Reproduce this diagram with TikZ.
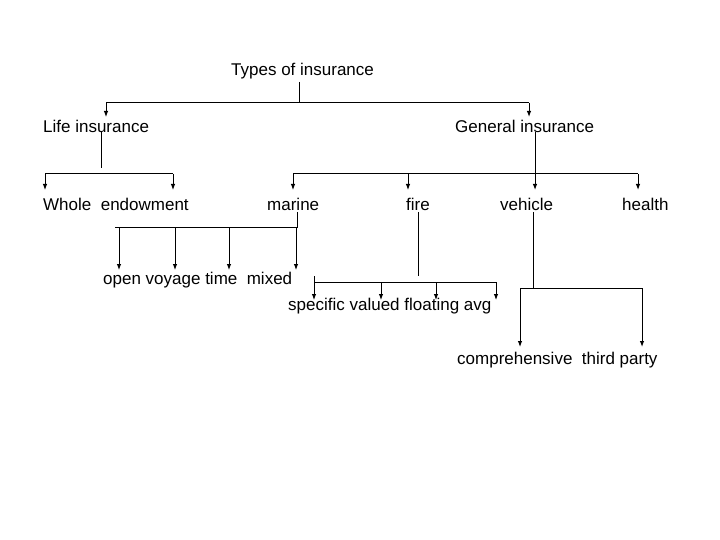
\documentclass[tikz,border=0pt]{standalone}
\usepackage{fontspec}
\setmainfont{Liberation Sans}
\usetikzlibrary{arrows.meta}
\begin{document}
\begin{tikzpicture}[x=1pt,y=-1pt,
  lbl/.style={anchor=west,inner sep=0pt,font=\fontsize{17}{20}\selectfont},
  ln/.style={line width=1pt},
  thin/.style={line width=0.6pt},
  arr/.style={line width=1pt,-{Latex[length=6pt,width=4.5pt]}}]
\useasboundingbox (0,0) rectangle (720,540);
% texts
\node[lbl] (types) at (231,71) {Types of insurance};
\node[lbl] (life) at (43,126) {Life insurance};
\node[lbl] (gen) at (455,126) {General insurance};
\node[lbl] (whole) at (43,204) {Whole\ \ endowment};
\node[lbl] (marine) at (267,204) {marine};
\node[lbl] (fire) at (406,204) {fire};
\node[lbl] (vehicle) at (500,204) {vehicle};
\node[lbl] (health) at (622,204) {health};
\node[lbl] (mar) at (103,280) {open voyage time\ \ mixed};
\node[lbl] (fir) at (288,306) {specific valued floating avg};
\node[lbl] (veh) at (457,360) {comprehensive\ \ third party};
% level 1
\draw[thin] (299,82) -- (299,103);
\draw[ln] (106,103) -- (529,103);
\draw[arr] (106,103) -- (106,117);
\draw[arr] (529,103) -- (529,117);
% life
\draw[thin] (101,132) -- (101,168);
\draw[ln] (45,174) -- (173,174);
\draw[arr] (45,174) -- (45,190);
\draw[arr] (173,174) -- (173,190);
% general
\draw[thin] (535,132) -- (535,174);
\draw[ln] (293,174) -- (638,174);
\foreach \x in {293,408,535,638} \draw[arr] (\x,174) -- (\x,190);
% marine
\draw[thin] (297,212) -- (297,228);
\draw[ln] (115,228) -- (297,228);
\foreach \x in {119,175,229,296} \draw[arr] (\x,228) -- (\x,270);
% fire
\draw[thin] (418,212) -- (418,276);
\draw[ln] (314,282) -- (496,282);
\draw[thin] (314,276) -- (314,282);
\foreach \x in {314,381,436,496} \draw[arr] (\x,282) -- (\x,300);
% vehicle
\draw[thin] (533,212) -- (533,288);
\draw[ln] (520,288) -- (642,288);
\draw[arr] (520,288) -- (520,347);
\draw[arr] (642,288) -- (642,347);
\end{tikzpicture}
\end{document}
